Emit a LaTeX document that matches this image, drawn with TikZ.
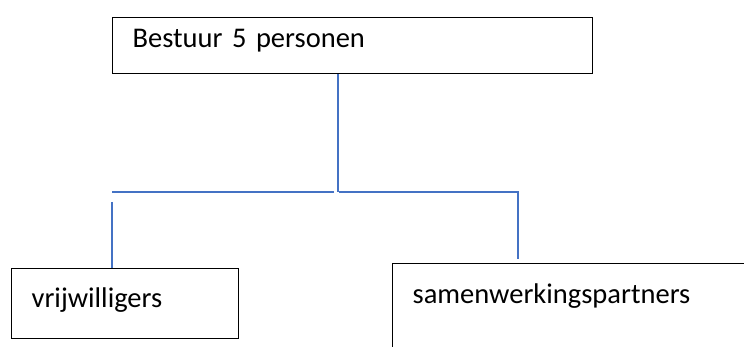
\documentclass[tikz,border=0pt]{standalone}
\usepackage{fontspec}
\setmainfont{Carlito}
\usetikzlibrary{positioning}

\definecolor{lijnblauw}{HTML}{4472C4}
\tikzset{
  blok/.style={draw=black, line width=1.3pt, rectangle, inner xsep=20pt, inner ysep=0pt,
    align=left, anchor=north west, font=\fontsize{28.5}{34}\selectfont},
  verbinding/.style={draw=lijnblauw, line width=1.3pt}
}

\begin{document}
\begin{tikzpicture}[x=1pt,y=-1pt]
\useasboundingbox (0,0) rectangle (744,347);
\clip (0,0) rectangle (744,347);

% blokken
\node[blok, text width=440pt, text height=30pt, text depth=26pt] (bestuur) at (112,17) {Bestuur 5 personen};
\node[blok, text width=187pt, text height=39pt, text depth=31pt] (vrijwilligers) at (11,268) {vrijwilligers};
\node[blok, text width=320pt, text height=40pt, text depth=60pt] (partners) at (392,263) {samenwerkingspartners};

% lijnen
\coordinate (knik) at (338,192);
\coordinate (linkspunt) at (112,202);
\coordinate (rechtspunt) at (518,259);
\draw[verbinding] (bestuur.south -| knik) -- (knik);
\draw[verbinding] ([xshift=-4pt]knik) -- (knik -| linkspunt);
\draw[verbinding] (linkspunt) -- (linkspunt |- vrijwilligers.north);
\draw[verbinding] ([xshift=1pt]knik) -- (knik -| rechtspunt) -- (rechtspunt);
\end{tikzpicture}
\end{document}
